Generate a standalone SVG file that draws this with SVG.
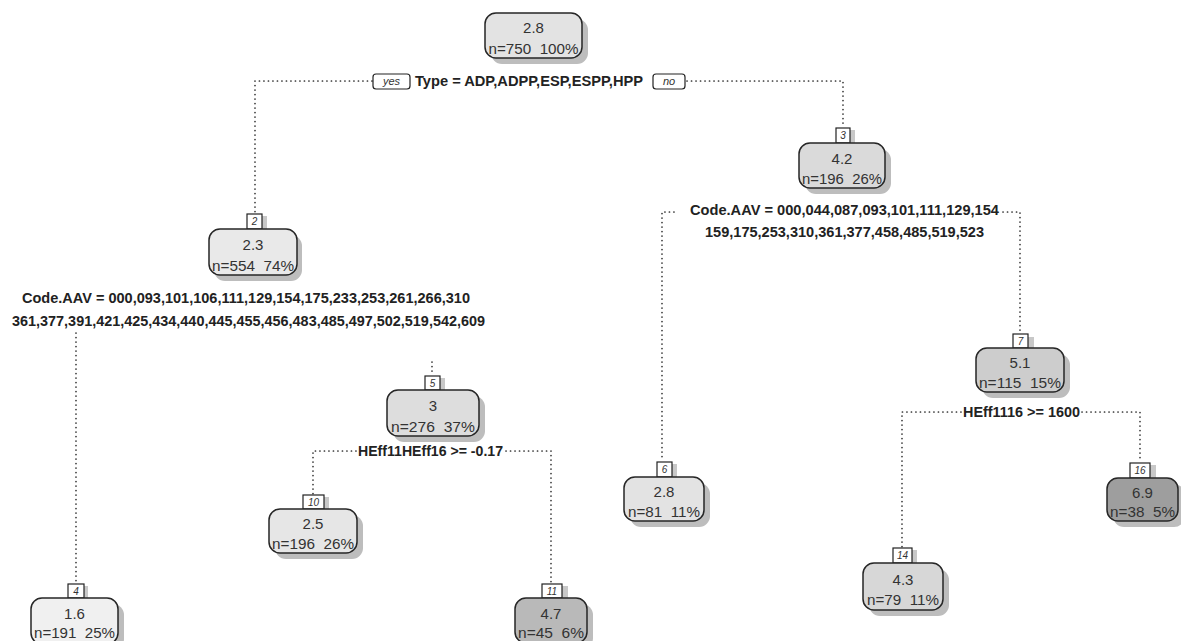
<svg xmlns="http://www.w3.org/2000/svg" width="1181" height="641" viewBox="0 0 1181 641">
<style>
.bg{fill:#ffffff}
.sh{fill:#bdbdbd}
.nd{stroke:#262626;stroke-width:1.5}
.v{font-family:"Liberation Sans",Arial,sans-serif;font-size:15px;fill:#333;text-anchor:middle}
.n{font-family:"Liberation Sans",Arial,sans-serif;font-size:14px;fill:#333;text-anchor:middle;white-space:pre}
.nb{fill:#ffffff;stroke:#222;stroke-width:1.2}
.nbs{fill:#c8c8c8}
.nt{font-family:"Liberation Sans",Arial,sans-serif;font-size:10px;font-style:italic;fill:#333;text-anchor:middle}
.sp{font-family:"Liberation Sans",Arial,sans-serif;font-size:14px;font-weight:bold;fill:#222}
.yn{font-family:"Liberation Sans",Arial,sans-serif;font-size:11px;font-style:italic;fill:#333;text-anchor:middle}
.dot{fill:none;stroke:#333;stroke-width:1.7;stroke-dasharray:0.1 4.4;stroke-linecap:round}
</style>
<rect class="bg" x="0" y="0" width="1181" height="641"/>

<g id="connectors">
  <path class="dot" d="M372,81 H255 V213"/>
  <path class="dot" d="M687,81 H843 V127"/>
  <path class="dot" d="M76,333 V583"/>
  <path class="dot" d="M432,362 V375"/>
  <path class="dot" d="M674,212 H662 V461"/>
  <path class="dot" d="M1003,212 H1020 V334"/>
  <path class="dot" d="M356,451 H313 V494"/>
  <path class="dot" d="M506,451 H551 V583"/>
  <path class="dot" d="M961,412 H902 V547"/>
  <path class="dot" d="M1082,412 H1140 V462"/>
</g>

<g id="labels">
  <rect class="nb" x="373" y="74" width="37" height="15" rx="3"/>
  <text class="yn" x="391.5" y="85">yes</text>
  <text class="sp" x="415" y="86" textLength="228" lengthAdjust="spacingAndGlyphs">Type = ADP,ADPP,ESP,ESPP,HPP</text>
  <rect class="nb" x="653" y="74" width="32" height="15" rx="3"/>
  <text class="yn" x="669" y="85">no</text>

  <text class="sp" x="22" y="303" textLength="448" lengthAdjust="spacingAndGlyphs">Code.AAV = 000,093,101,106,111,129,154,175,233,253,261,266,310</text>
  <text class="sp" x="12" y="326" textLength="473" lengthAdjust="spacingAndGlyphs">361,377,391,421,425,434,440,445,455,456,483,485,497,502,519,542,609</text>

  <text class="sp" x="690" y="215" textLength="309" lengthAdjust="spacingAndGlyphs">Code.AAV = 000,044,087,093,101,111,129,154</text>
  <text class="sp" x="705" y="237" textLength="279" lengthAdjust="spacingAndGlyphs">159,175,253,310,361,377,458,485,519,523</text>

  <text class="sp" x="358" y="456" textLength="145" lengthAdjust="spacingAndGlyphs">HEff11HEff16 &gt;= -0.17</text>
  <text class="sp" x="963" y="417" textLength="117" lengthAdjust="spacingAndGlyphs">HEff1116 &gt;= 1600</text>
</g>

<g id="node1">
  <rect class="sh" x="491" y="19" width="97" height="45" rx="11"/>
  <rect class="nd" x="485" y="13" width="97" height="45" rx="11" fill="#e3e3e3"/>
  <text class="v" x="533.5" y="33">2.8</text>
  <text class="n" x="533.5" y="54" xml:space="preserve" textLength="90" lengthAdjust="spacingAndGlyphs">n=750  100%</text>
</g>

<g id="node2">
  <rect class="nbs" x="252" y="216" width="15" height="13"/>
  <rect class="nb" x="247" y="214" width="15" height="15"/>
  <text class="nt" x="254.5" y="225">2</text>
  <rect class="sh" x="214" y="235" width="88" height="46" rx="11"/>
  <rect class="nd" x="209" y="229" width="88" height="46" rx="11" fill="#e9e9e9"/>
  <text class="v" x="253" y="250">2.3</text>
  <text class="n" x="253" y="271" xml:space="preserve" textLength="82" lengthAdjust="spacingAndGlyphs">n=554  74%</text>
</g>

<g id="node3">
  <rect class="nbs" x="841" y="130" width="14" height="13"/>
  <rect class="nb" x="836" y="128" width="14" height="15"/>
  <text class="nt" x="843" y="139">3</text>
  <rect class="sh" x="805" y="149" width="86" height="45" rx="11"/>
  <rect class="nd" x="799" y="143" width="86" height="45" rx="11" fill="#dadada"/>
  <text class="v" x="842" y="164">4.2</text>
  <text class="n" x="842" y="184" xml:space="preserve" textLength="80" lengthAdjust="spacingAndGlyphs">n=196  26%</text>
</g>

<g id="node4">
  <rect class="nbs" x="73" y="586" width="15" height="12"/>
  <rect class="nb" x="68" y="584" width="16" height="14"/>
  <text class="nt" x="76" y="595">4</text>
  <rect class="sh" x="37" y="604" width="87" height="46" rx="11"/>
  <rect class="nd" x="31" y="598" width="87" height="46" rx="11" fill="#f0f0f0"/>
  <text class="v" x="74.5" y="619">1.6</text>
  <text class="n" x="74.5" y="638" xml:space="preserve" textLength="81" lengthAdjust="spacingAndGlyphs">n=191  25%</text>
</g>

<g id="node5">
  <rect class="nbs" x="430" y="378" width="15" height="12"/>
  <rect class="nb" x="425" y="376" width="15" height="14"/>
  <text class="nt" x="432.5" y="387">5</text>
  <rect class="sh" x="393" y="396" width="92" height="46" rx="11"/>
  <rect class="nd" x="387" y="390" width="92" height="46" rx="11" fill="#dddddd"/>
  <text class="v" x="433" y="411">3</text>
  <text class="n" x="433" y="432" xml:space="preserve" textLength="84" lengthAdjust="spacingAndGlyphs">n=276  37%</text>
</g>

<g id="node6">
  <rect class="nbs" x="662" y="464" width="15" height="13"/>
  <rect class="nb" x="657" y="462" width="15" height="15"/>
  <text class="nt" x="664.5" y="473">6</text>
  <rect class="sh" x="630" y="483" width="80" height="44" rx="11"/>
  <rect class="nd" x="624" y="477" width="80" height="44" rx="11" fill="#e3e3e3"/>
  <text class="v" x="664" y="497">2.8</text>
  <text class="n" x="664" y="517" xml:space="preserve" textLength="72" lengthAdjust="spacingAndGlyphs">n=81  11%</text>
</g>

<g id="node7">
  <rect class="nbs" x="1019" y="337" width="15" height="11"/>
  <rect class="nb" x="1013" y="334" width="15" height="14"/>
  <text class="nt" x="1020.5" y="345">7</text>
  <rect class="sh" x="982" y="354" width="88" height="44" rx="11"/>
  <rect class="nd" x="976" y="348" width="88" height="44" rx="11" fill="#cdcdcd"/>
  <text class="v" x="1020" y="368">5.1</text>
  <text class="n" x="1020" y="388" xml:space="preserve" textLength="82" lengthAdjust="spacingAndGlyphs">n=115  15%</text>
</g>

<g id="node10">
  <rect class="nbs" x="308" y="497" width="21" height="12"/>
  <rect class="nb" x="303" y="495" width="21" height="14"/>
  <text class="nt" x="313.5" y="506">10</text>
  <rect class="sh" x="275" y="515" width="88" height="44" rx="11"/>
  <rect class="nd" x="269" y="509" width="88" height="44" rx="11" fill="#e6e6e6"/>
  <text class="v" x="313" y="529">2.5</text>
  <text class="n" x="313" y="549" xml:space="preserve" textLength="82" lengthAdjust="spacingAndGlyphs">n=196  26%</text>
</g>

<g id="node11">
  <rect class="nbs" x="548" y="586" width="20" height="12"/>
  <rect class="nb" x="542" y="584" width="20" height="14"/>
  <text class="nt" x="552" y="595">11</text>
  <rect class="sh" x="521" y="604" width="72" height="45" rx="11"/>
  <rect class="nd" x="515" y="598" width="72" height="45" rx="11" fill="#b9b9b9"/>
  <text class="v" x="551" y="619">4.7</text>
  <text class="n" x="551" y="638" xml:space="preserve" textLength="66" lengthAdjust="spacingAndGlyphs">n=45  6%</text>
</g>

<g id="node14">
  <rect class="nbs" x="898" y="550" width="19" height="13"/>
  <rect class="nb" x="893" y="548" width="19" height="15"/>
  <text class="nt" x="902.5" y="559">14</text>
  <rect class="sh" x="869" y="569" width="80" height="47" rx="11"/>
  <rect class="nd" x="863" y="563" width="80" height="47" rx="11" fill="#d7d7d7"/>
  <text class="v" x="903" y="585">4.3</text>
  <text class="n" x="903" y="605" xml:space="preserve" textLength="72" lengthAdjust="spacingAndGlyphs">n=79  11%</text>
</g>

<g id="node16">
  <rect class="nbs" x="1136" y="465" width="20" height="13"/>
  <rect class="nb" x="1130" y="463" width="20" height="15"/>
  <text class="nt" x="1140" y="474">16</text>
  <rect class="sh" x="1113" y="484" width="72" height="43" rx="11"/>
  <rect class="nd" x="1107" y="478" width="71" height="43" rx="11" fill="#9e9e9e"/>
  <text class="v" x="1142.5" y="498">6.9</text>
  <text class="n" x="1142.5" y="517" xml:space="preserve" textLength="65" lengthAdjust="spacingAndGlyphs">n=38  5%</text>
</g>
</svg>
